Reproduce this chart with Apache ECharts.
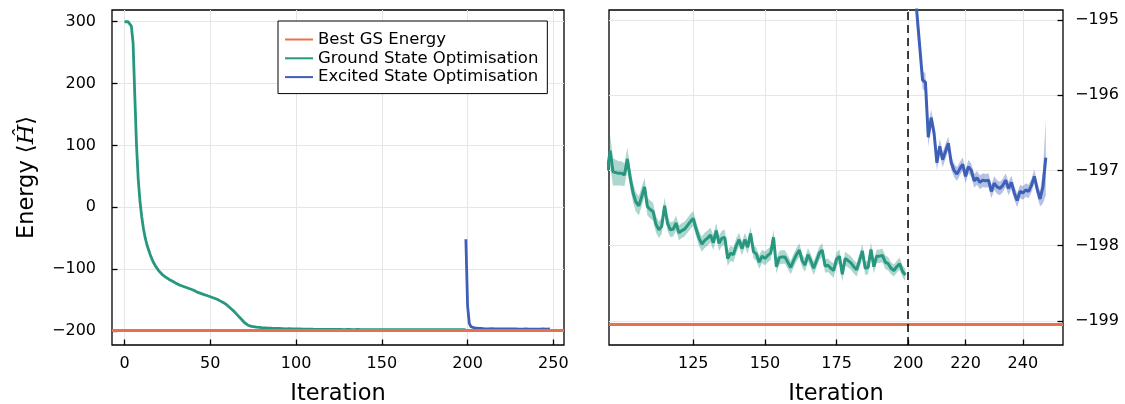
<!DOCTYPE html>
<html>
<head>
<meta charset="utf-8">
<script src="https://cdn.jsdelivr.net/npm/echarts@6/dist/echarts.min.js"></script>
<style>html,body{margin:0;padding:0;background:#fff}#c{width:1125px;height:404px}</style>
</head>
<body>
<div id="c"></div>
<script>
// ---------------- data ----------------
const bestGS = -199.04;
// ground state optimisation: early (sparse read) part
const gsEarlyIter = [0,1,2,3,4,5,6,7,8,9,10,11,12,13,14,15,16,17,18,19,20,22,24,26,28,30,32,34,36,38,40,42,44,46,48,50,52,54,56,58,60,62,64,66,68,70,71,72,73,74,75,77,80,83,86,90,94];
const gsEarlyEnergy = [300,300,300,299,293,265,180,100,45,10,-15,-34,-49,-60,-69,-77,-84,-90,-95,-99,-103,-109,-113,-117,-120,-123,-126,-128,-130,-132,-134,-137,-139,-141,-143,-145,-147,-149,-152,-155,-159,-164,-169,-175,-181,-187,-189.5,-191,-192,-192.8,-193.3,-194,-194.8,-195.3,-195.7,-196.2,-196.8];
// ground state optimisation: iterations 95..199 (one per iteration)
const gsTailStart = 95;
const gsTailEnergy = [
 -197.0,-196.74,-197.02,-197.03,-197.04,-197.04,-197.06,-196.85,-197.1,-197.3,
 -197.42,-197.47,-197.35,-197.22,-197.48,-197.52,-197.55,-197.72,-197.79,-197.74,
 -197.47,-197.7,-197.79,-197.78,-197.7,-197.83,-197.8,-197.78,-197.73,-197.68,
 -197.64,-197.78,-197.9,-197.98,-197.93,-197.9,-197.86,-197.96,-197.8,-197.97,
 -197.9,-197.89,-198.17,-198.1,-198.12,-198.0,-197.92,-198.04,-197.92,-198.02,
 -197.84,-198.08,-198.11,-198.22,-198.14,-198.17,-198.13,-198.1,-197.89,-198.28,
 -198.16,-198.15,-198.15,-198.22,-198.29,-198.2,-198.12,-198.06,-198.2,-198.26,
 -198.12,-198.2,-198.3,-198.2,-198.1,-198.06,-198.27,-198.26,-198.3,-198.33,
 -198.18,-198.14,-198.38,-198.17,-198.2,-198.23,-198.28,-198.32,-198.2,-198.07,
 -198.3,-198.29,-198.05,-198.28,-198.14,-198.14,-198.13,-198.22,-198.24,-198.3,
 -198.33,-198.28,-198.24,-198.34,-198.39];
const gsTailSpread = [
 0.18,0.2,0.18,0.17,0.16,0.16,0.15,0.15,0.13,0.13,
 0.13,0.13,0.13,0.12,0.12,0.12,0.12,0.11,0.11,0.11,
 0.11,0.1,0.1,0.1,0.1,0.1,0.1,0.1,0.1,0.1,
 0.1,0.1,0.1,0.1,0.1,0.1,0.1,0.1,0.1,0.1,
 0.1,0.1,0.1,0.1,0.1,0.1,0.09,0.09,0.09,0.09,
 0.09,0.09,0.09,0.09,0.09,0.09,0.09,0.09,0.1,0.09,
 0.09,0.09,0.09,0.09,0.09,0.09,0.09,0.09,0.09,0.09,
 0.09,0.09,0.09,0.09,0.09,0.09,0.09,0.09,0.09,0.1,
 0.09,0.09,0.1,0.09,0.09,0.09,0.09,0.09,0.09,0.09,
 0.09,0.09,0.09,0.09,0.09,0.09,0.09,0.09,0.09,0.08,
 0.08,0.08,0.08,0.08,0.08];
// excited state optimisation: iterations 199..248
const esStart = 199;
const esEnergy = [
 -52,-160,-188,-193.5,-194.9,-195.35,-195.8,-195.83,-196.56,-196.3,
 -196.5,-196.9,-196.68,-196.86,-196.75,-196.64,-196.9,-197.0,-197.05,-196.98,
 -196.92,-197.08,-196.95,-197.0,-197.14,-197.1,-197.16,-197.13,-197.14,-197.13,
 -197.28,-197.17,-197.22,-197.24,-197.2,-197.13,-197.24,-197.16,-197.3,-197.4,
 -197.28,-197.3,-197.26,-197.28,-197.2,-197.08,-197.25,-197.38,-197.22,-196.83];
const esSpread = [
 0.3,0.3,0.3,0.3,0.2,0.12,0.12,0.12,0.12,0.11,
 0.1,0.1,0.1,0.1,0.1,0.09,0.09,0.09,0.09,0.09,
 0.09,0.09,0.09,0.09,0.09,0.09,0.09,0.09,0.09,0.09,
 0.09,0.09,0.09,0.09,0.09,0.09,0.09,0.09,0.09,0.09,
 0.09,0.09,0.09,0.09,0.09,0.09,0.09,0.1,0.22,0.5];
const dividerIter = 200;
const leftXTicks = [0,50,100,150,200,250];
const leftYTicks = [-200,-100,0,100,200,300];
const rightXTicks = [125,150,175,200,220,240];
const rightYTicks = [-199,-198,-197,-196,-195];

// ---------------- build ----------------
const gsPts = gsEarlyIter.map((x,i)=>[x,gsEarlyEnergy[i]])
  .concat(gsTailEnergy.map((v,i)=>[gsTailStart+i,v]));
const gsRib = gsTailEnergy.map((v,i)=>[gsTailStart+i, v-gsTailSpread[i], v+gsTailSpread[i]]);
const esPts = esEnergy.map((v,i)=>[esStart+i,v]);
const esRib = esEnergy.map((v,i)=>[esStart+i, v-esSpread[i], v+esSpread[i]]);

const RED = '#E8704F', GREEN = '#27977F', BLUE = '#3E5FB8';
const FONT = 'DejaVu Sans';
const minus = v => (v < 0 ? '\u2212' + Math.abs(v) : String(v));
const grid = g => ({left:g[0], top:10, width:g[1], height:335, outerBoundsMode:'none', containLabel:false,
  show:true, borderColor:'#000', borderWidth:1.3, backgroundColor:'#fff'});
const gridLine = {show:true, lineStyle:{color:'#e6e6e6', width:1}};
const lbl = {fontFamily:FONT, fontSize:16, color:'#000', formatter:minus};
const tick = vals => ({show:true, inside:true, length:5.5, lineStyle:{color:'#000', width:1.3}, customValues:vals});
const hidden = {show:false, onZero:false};

function ribbon(name, rows, color) {
  return {
    name, type:'custom', xAxisIndex:1, yAxisIndex:1, clip:true, silent:true, z:1,
    data: rows, encode:{x:0, y:[1,2]},
    renderItem: (params, api) => {
      if (params.dataIndex !== 0) return null;
      const top = rows.map(r => api.coord([r[0], r[2]]));
      const bot = rows.map(r => api.coord([r[0], r[1]])).reverse();
      return {type:'polygon', shape:{points: top.concat(bot)}, style:{fill:color, opacity:0.38}};
    }
  };
}

const chart = echarts.init(document.getElementById('c'), null, {renderer:'canvas'});
chart.setOption({
  animation:false,
  backgroundColor:'#fff',
  grid:[grid([112,452]), grid([609,454])],
  legend:{
    left:278, top:21, orient:'vertical', borderColor:'#000', borderWidth:1, backgroundColor:'#fff',
    padding:[10,9,8,7], itemWidth:28, itemHeight:2, itemGap:1.8, icon:'rect',
    textStyle:{fontFamily:FONT, fontSize:16.5, lineHeight:16.5, color:'#000'},
    data:['Best GS Energy','Ground State Optimisation','Excited State Optimisation'], z:20
  },
  xAxis:[
    {gridIndex:0, type:'value', min:-7.3, max:256.2, axisLine:hidden,
     axisTick:tick(leftXTicks), axisLabel:Object.assign({margin:11, customValues:leftXTicks}, lbl), splitLine:gridLine,
     name:'Iteration', nameLocation:'middle', nameGap:38, nameTextStyle:{fontFamily:FONT, fontSize:22.5, color:'#000'}},
    {gridIndex:1, type:'value', min:95.6, max:254, axisLine:hidden,
     axisTick:tick(rightXTicks), axisLabel:Object.assign({margin:11, customValues:rightXTicks}, lbl), splitLine:gridLine,
     name:'Iteration', nameLocation:'middle', nameGap:38, nameTextStyle:{fontFamily:FONT, fontSize:22.5, color:'#000'}}
  ],
  yAxis:[
    {gridIndex:0, type:'value', min:-223, max:319, axisLine:hidden,
     axisTick:tick(leftYTicks), axisLabel:Object.assign({margin:16, customValues:leftYTicks}, lbl), splitLine:gridLine,
     name:'{a|Energy }{b|\u27E8}{c|\u0124}{b|\u27E9}', nameLocation:'middle', nameGap:73, nameRotate:90,
     nameTextStyle:{rich:{a:{fontFamily:FONT, fontSize:22.5, color:'#000'}, b:{fontFamily:'DejaVu Serif', fontSize:22.5, color:'#000'}, c:{fontFamily:'DejaVu Serif', fontStyle:'italic', fontSize:22.5, color:'#000'}}}},
    {gridIndex:1, type:'value', position:'right', min:-199.32, max:-194.87, axisLine:hidden,
     axisTick:tick(rightYTicks), axisLabel:Object.assign({margin:12, customValues:rightYTicks}, lbl), splitLine:gridLine}
  ],
  series:[
    // left panel
    {name:'Best GS Energy', type:'line', xAxisIndex:0, yAxisIndex:0, data:[], color:RED,
     markLine:{silent:true, symbol:'none', label:{show:false}, lineStyle:{color:RED, width:2.8, type:'solid'}, data:[{yAxis:bestGS}]}},
    {name:'Ground State Optimisation', type:'line', xAxisIndex:0, yAxisIndex:0, data:gsPts, color:GREEN, showSymbol:false, lineStyle:{width:2.8}},
    {name:'Excited State Optimisation', type:'line', xAxisIndex:0, yAxisIndex:0, data:esPts, color:BLUE, showSymbol:false, lineStyle:{width:2.8}},
    // right panel
    {name:'Best GS Energy', type:'line', xAxisIndex:1, yAxisIndex:1, data:[], color:RED,
     markLine:{silent:true, symbol:'none', label:{show:false}, lineStyle:{color:RED, width:2.8, type:'solid'}, data:[{yAxis:bestGS}]}},
    ribbon('gsRibbon', gsRib, GREEN),
    ribbon('esRibbon', esRib, BLUE),
    {name:'Ground State Optimisation', type:'line', xAxisIndex:1, yAxisIndex:1, data:gsPts, color:GREEN, showSymbol:false, lineStyle:{width:3}, z:3,
     markLine:{silent:true, symbol:'none', label:{show:false}, lineStyle:{color:'#000', width:1.5, type:[8,5]}, data:[{xAxis:dividerIter}]}},
    {name:'Excited State Optimisation', type:'line', xAxisIndex:1, yAxisIndex:1, data:esPts, color:BLUE, showSymbol:false, lineStyle:{width:3}, z:3}
  ]
});
</script>
</body>
</html>
